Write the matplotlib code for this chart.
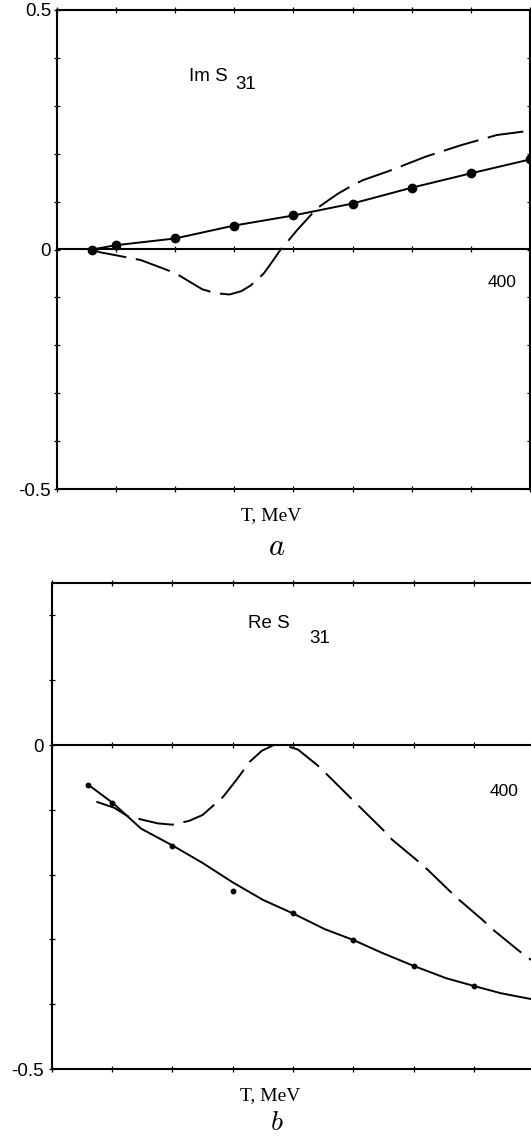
#!/usr/bin/python

############### Importing libraries ################
import numpy as np
import matplotlib
matplotlib.use("Agg")
import matplotlib.pyplot as plt
from matplotlib.ticker import NullFormatter

plt.rcParams['font.family'] = ['Liberation Sans', 'DejaVu Sans']
plt.rcParams['mathtext.fontset'] = 'cm'
plt.rcParams['lines.scale_dashes'] = False

############### Data #####################################
# panel a: Im S31
im_T_dots = [30, 50, 100, 150, 200, 250, 300, 350, 400]
im_dots = [0.0, 0.009, 0.023, 0.050, 0.071, 0.096, 0.129, 0.159, 0.188]

im_T_dash = [29, 37, 50, 71, 100, 123, 134, 146, 156, 164, 175, 182, 189, 198,
             203, 220, 228, 238, 250, 259, 281, 312, 342, 372, 400]
im_dash = [0.0, -0.006, -0.012, -0.022, -0.049, -0.083, -0.091, -0.094, -0.087,
           -0.075, -0.050, -0.026, -0.001, 0.025, 0.040, 0.086, 0.100, 0.117,
           0.134, 0.145, 0.164, 0.194, 0.218, 0.239, 0.248]

# panel b: Re S31
re_T_dots = [30, 50, 100, 150, 200, 250, 300, 350]
re_dots = [-0.061, -0.090, -0.156, -0.225, -0.260, -0.301, -0.341, -0.372]

re_T_line = [30, 51, 74, 101, 125, 150, 175, 200, 226, 250, 274, 300, 327,
             350, 372, 397, 410]
re_line = [-0.061, -0.090, -0.129, -0.156, -0.182, -0.212, -0.239, -0.260,
           -0.284, -0.301, -0.321, -0.341, -0.360, -0.372, -0.383, -0.392,
           -0.396]

re_T_dash = [37, 52, 63, 88, 100, 114, 125, 142, 153, 164, 174, 184, 192, 204,
             220, 230, 250, 256, 274, 282, 302, 309, 329, 337, 357, 365, 386,
             395, 410]
re_dash = [-0.0875, -0.097, -0.110, -0.121, -0.123, -0.117, -0.108, -0.080,
           -0.054, -0.026, -0.009, 0.0, 0.0, -0.007, -0.031, -0.049, -0.086,
           -0.097, -0.130, -0.146, -0.177, -0.188, -0.224, -0.238, -0.270,
           -0.284, -0.316, -0.329, -0.345]

x_ticks = np.arange(0, 401, 50)
W, H = 531, 1137


def px(x, y):
    '''Convert picture pixels (from the top left) to figure fractions.'''
    return x / W, 1 - y / H


def style_axes(ax, ylim, labelled, pad):
    '''Frame, ticks and zero line shared by both panels.'''
    ax.set_xlim(0, 400)
    ax.set_ylim(*ylim)
    ax.set_xticks(x_ticks)
    ax.xaxis.set_major_formatter(NullFormatter())
    yt = np.round(np.arange(-0.5, ylim[1] + 1e-9, 0.1), 2)
    ax.set_yticks(yt)
    ax.set_yticklabels([("0" if v == 0 else f"{v:g}") if v in labelled else "" for v in yt])
    for s in ax.spines.values():
        s.set_linewidth(1.5)
    ax.tick_params(direction='inout', length=5, width=0.9, top=True, right=True,
                   labelsize=13.5, pad=pad)
    # zero line carrying its own ticks
    frac = (0 - ylim[0]) / (ylim[1] - ylim[0])
    sec = ax.secondary_xaxis(frac)
    sec.set_xticks(x_ticks)
    sec.tick_params(direction='inout', length=5, width=0.9,
                    labeltop=False, labelbottom=False)
    for s in sec.spines.values():
        s.set_linewidth(1.5)


############### Plotting ################
fig = plt.figure(figsize=(W / 100, H / 100), dpi=100)

# panel a
ax1 = fig.add_axes([56.7 / W, 1 - 489 / H, (530 - 56.7) / W, (489 - 10) / H])
style_axes(ax1, (-0.5, 0.5), [-0.5, 0.0, 0.5], pad=1.5)
ax1.plot(im_T_dots, im_dots, 'k-', lw=1.4, marker='o', ms=6)
ax1.plot(im_T_dash, im_dash, 'k', lw=1.4, dashes=(26, 7))

fig.text(*px(189, 80.7), "Im S", fontsize=13.5)
fig.text(*px(235, 89.3), "31", fontsize=13.5)
fig.text(*px(517, 286.5), "400", fontsize=12.5, ha='right')
fig.text(*px(271.5, 520), "T, MeV", fontsize=14, ha='center',
         family='Liberation Serif')
fig.text(*px(277, 555), r"$a$", fontsize=22, ha='center')

# panel b
ax2 = fig.add_axes([51.7 / W, 1 - 1069 / H, (534.5 - 51.7) / W, (1069 - 583) / H])
style_axes(ax2, (-0.5, 0.25), [-0.5, 0.0], pad=3)
ax2.plot(re_T_line, re_line, 'k-', lw=1.4)
ax2.plot(re_T_dots, re_dots, 'ko', ms=3.2)
ax2.plot(re_T_dash, re_dash, 'k', lw=1.4, dashes=(26, 7))

fig.text(*px(248, 628.3), "Re S", fontsize=13.5)
fig.text(*px(309.7, 643.3), "31", fontsize=13.5)
fig.text(*px(518, 795.5), "400", fontsize=12.5, ha='right')
fig.text(*px(270, 1100), "T, MeV", fontsize=14, ha='center',
         family='Liberation Serif')
fig.text(*px(277, 1130), r"$b$", fontsize=20, ha='center')

fig.savefig("out.png", dpi=100)
